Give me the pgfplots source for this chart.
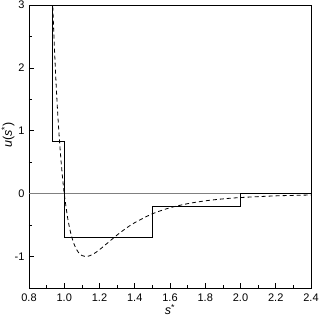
\documentclass[border=0pt]{standalone}
\usepackage{fontspec}
\setmainfont{Liberation Sans}
\usepackage{pgfplots}
\pgfplotsset{compat=1.18}
\begin{document}
\begin{tikzpicture}
\begin{axis}[
  name=ax, at={(0,0)}, anchor=south west,
  scale only axis, width=282pt, height=283pt,
  xmin=0.8, xmax=2.4, ymin=-1.5, ymax=3,
  xtick={0.8,1.0,...,2.4}, ytick={-1,0,1,2,3},
  minor x tick num=1, minor y tick num=1,
  xtick pos=bottom, ytick pos=left,
  tick align=inside,
  major tick length=5pt, minor tick length=3pt,
  tick style={black, line width=0.6pt},
  axis line style={line width=0.8pt},
  /pgf/number format/assume math mode=true,
  ticklabel style={font=\fontsize{11}{13}\selectfont},
  label style={font=\fontsize{12.5}{14}\selectfont},
  xticklabel style={/pgf/number format/fixed, /pgf/number format/fixed zerofill, /pgf/number format/precision=1, yshift=-2pt},
  yticklabel style={xshift=-1pt},
  xlabel={\textit{s}\textsuperscript{*}},
  ylabel={\textit{u}(\textit{s}\textsuperscript{*})},
  xlabel style={at={(axis description cs:0.5,0)}, anchor=north, yshift=-13pt},
  ylabel style={at={(axis description cs:0,0.54)}, anchor=south, yshift=11pt},
]
\addplot[gray, line width=0.6pt] coordinates {(0.8,0) (2.4,0)};
\addplot[black, line width=0.8pt] coordinates {
(0.935,3) (0.935,0.83) (1.0,0.83) (1.0,-0.7) (1.5,-0.7) (1.5,-0.2) (2.0,-0.2) (2.0,0) (2.4,0)};
\addplot[black, line width=0.8pt, dash pattern=on 4pt off 3pt, smooth] coordinates {
(0.935,2.974) (0.94,2.606) (0.95,1.961) (0.96,1.418) (0.97,0.963) (0.98,0.582) (0.99,0.264)
(1.0,0) (1.02,-0.398) (1.04,-0.663) (1.06,-0.832) (1.08,-0.932) (1.10,-0.983) (1.12,-1.000)
(1.14,-0.992) (1.17,-0.951) (1.2,-0.891) (1.25,-0.774) (1.3,-0.657) (1.35,-0.552) (1.4,-0.461)
(1.5,-0.320) (1.6,-0.224) (1.7,-0.159) (1.8,-0.114) (1.9,-0.083) (2.0,-0.0615) (2.2,-0.035) (2.4,-0.021)};
\end{axis}
\pgfresetboundingbox
\useasboundingbox (-29pt,-29pt) rectangle (290pt,288pt);
\end{tikzpicture}
\end{document}
